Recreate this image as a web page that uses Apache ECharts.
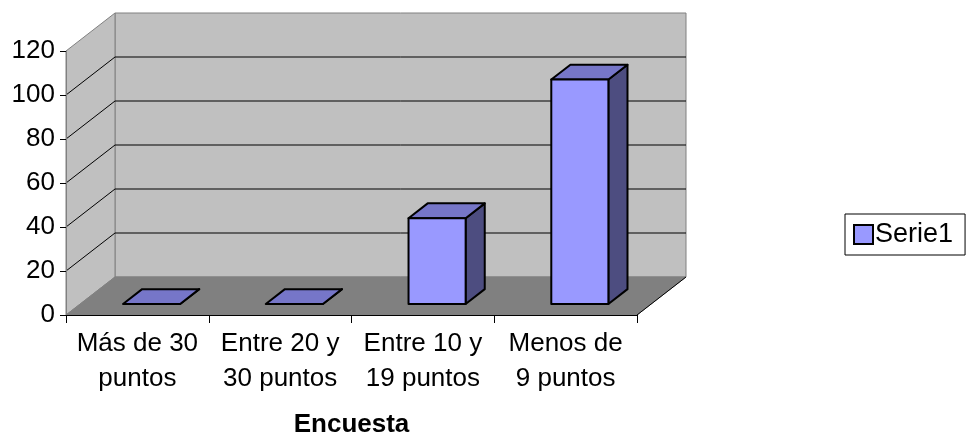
<!DOCTYPE html>
<html>
<head>
<meta charset="utf-8">
<script src="https://cdn.jsdelivr.net/npm/echarts@6/dist/echarts.min.js"></script>
<style>
  html, body { margin: 0; padding: 0; background: #ffffff; }
  #chart { width: 975px; height: 437px; }
</style>
</head>
<body>
<div id="chart"></div>
<script>
  // datos de la encuesta
  const categories = ['Más de 30\npuntos', 'Entre 20 y\n30 puntos', 'Entre 10 y\n19 puntos', 'Menos de\n9 puntos'];
  const serie1 = [0, 0, 39, 102];
  const yTicks = [0, 20, 40, 60, 80, 100, 120];

  // profundidad del efecto 3D (px)
  const DX = 49, DY = -38;
  const F0 = 0.29, F1 = 0.68;   // cara frontal / trasera de la barra

  let dom = document.getElementById('chart');
  let myChart = echarts.init(dom);

  function renderWalls(params, api) {
    let cs = params.coordSys;
    let x0 = cs.x, x1 = cs.x + cs.width, yt = cs.y, yb = cs.y + cs.height;
    let wall = { fill: '#C0C0C0', stroke: '#808080', lineWidth: 1 };
    return {
      type: 'group',
      children: [
        { type: 'polygon', shape: { points: [[x0 + DX, yt + DY], [x1 + DX, yt + DY], [x1 + DX, yb + DY], [x0 + DX, yb + DY]] }, style: wall },
        { type: 'polygon', shape: { points: [[x0, yt], [x0 + DX, yt + DY], [x0 + DX, yb + DY], [x0, yb]] }, style: wall },
        { type: 'polygon', shape: { points: [[x0, yb], [x0 + DX, yb + DY], [x1 + DX, yb + DY], [x1, yb]] },
          style: { fill: '#808080', stroke: '#808080', lineWidth: 1 } },
        { type: 'line', shape: { x1: x1, y1: yb, x2: x1 + DX, y2: yb + DY }, style: { stroke: '#000', lineWidth: 1 } }
      ]
    };
  }

  function renderGrid(params, api) {
    let v = api.value(1);
    if (v <= 0 || v >= 120) return null;
    let cs = params.coordSys;
    let x0 = cs.x, x1 = cs.x + cs.width;
    let y = api.coord([0, v])[1];
    return {
      type: 'group',
      children: [
        { type: 'line', shape: { x1: x0, y1: y, x2: x0 + DX, y2: y + DY }, style: { stroke: '#000', lineWidth: 1 } },
        { type: 'line', shape: { x1: x0 + DX, y1: y + DY, x2: x1 + DX, y2: y + DY }, style: { stroke: '#000', lineWidth: 1 } }
      ]
    };
  }

  function renderBar(params, api) {
    let idx = api.value(0);
    let top = api.coord([idx, api.value(1)]);
    let base = api.coord([idx, 0]);
    let w = api.size([1, 0])[0] * 0.4;
    let fx = F0 * DX, fy = F0 * DY;
    let bx = F1 * DX - fx, by = F1 * DY - fy;
    let l = top[0] - w / 2 + fx, r = l + w;
    let t = top[1] + fy, b = base[1] + fy;
    let edge = { stroke: '#000', lineWidth: 2, lineJoin: 'round' };
    let children = [
      { type: 'polygon', shape: { points: [[r, t], [r + bx, t + by], [r + bx, b + by], [r, b]] },
        style: Object.assign({ fill: '#4D4D80' }, edge) },
      { type: 'polygon', shape: { points: [[l, t], [l + bx, t + by], [r + bx, t + by], [r, t]] },
        style: Object.assign({ fill: '#7676C8' }, edge) }
    ];
    if (b - t > 0.5) {
      children.push({ type: 'rect', shape: { x: l, y: t, width: w, height: b - t },
        style: Object.assign({ fill: '#9999FF' }, edge) });
    }
    return { type: 'group', children: children };
  }

  let option = {
    animation: false,
    textStyle: { fontFamily: 'Liberation Sans, Arial, sans-serif', color: '#000' },
    grid: { left: 66, right: 338, top: 51, bottom: 122, containLabel: false, outerBoundsMode: 'none' },
    legend: {
      data: ['Serie1'],
      left: 845,
      top: 214,
      orient: 'vertical',
      padding: [7, 12, 7, 8],
      borderColor: '#000',
      borderWidth: 1,
      icon: 'rect',
      itemWidth: 19,
      itemHeight: 19,
      itemGap: 5,
      itemStyle: { color: '#9999FF', borderColor: '#000', borderWidth: 2 },
      textStyle: { fontSize: 27, color: '#000', padding: [0, 0, 0, -3] }
    },
    xAxis: {
      type: 'category',
      data: categories,
      z: 10,
      name: 'Encuesta',
      nameLocation: 'middle',
      nameGap: 97,
      nameTextStyle: { fontSize: 26, fontWeight: 'bold', color: '#000' },
      axisLine: { lineStyle: { color: '#000', width: 1 } },
      axisTick: { show: true, length: 8, lineStyle: { color: '#000' } },
      axisLabel: { interval: 0, fontSize: 26, lineHeight: 35, margin: 11, color: '#000' },
      splitLine: { show: false }
    },
    yAxis: {
      type: 'value',
      min: 0,
      max: 120,
      interval: 20,
      z: 10,
      axisLine: { show: true, lineStyle: { color: '#808080', width: 1 } },
      axisTick: { show: true, length: 6, lineStyle: { color: '#000' } },
      axisLabel: { fontSize: 26, margin: 11, color: '#000' },
      splitLine: { show: false }
    },
    series: [
      { type: 'custom', name: 'walls', renderItem: renderWalls, data: [[0, 0]], z: 1, silent: true },
      { type: 'custom', name: 'grid', renderItem: renderGrid, data: yTicks.map(v => [0, v]), z: 2, silent: true },
      {
        type: 'custom',
        name: 'Serie1',
        renderItem: renderBar,
        itemStyle: { color: '#9999FF', borderColor: '#000', borderWidth: 2 },
        encode: { x: 0, y: 1 },
        data: serie1.map((v, i) => [i, v]),
        z: 3
      }
    ]
  };

  myChart.setOption(option, true);
</script>
</body>
</html>
